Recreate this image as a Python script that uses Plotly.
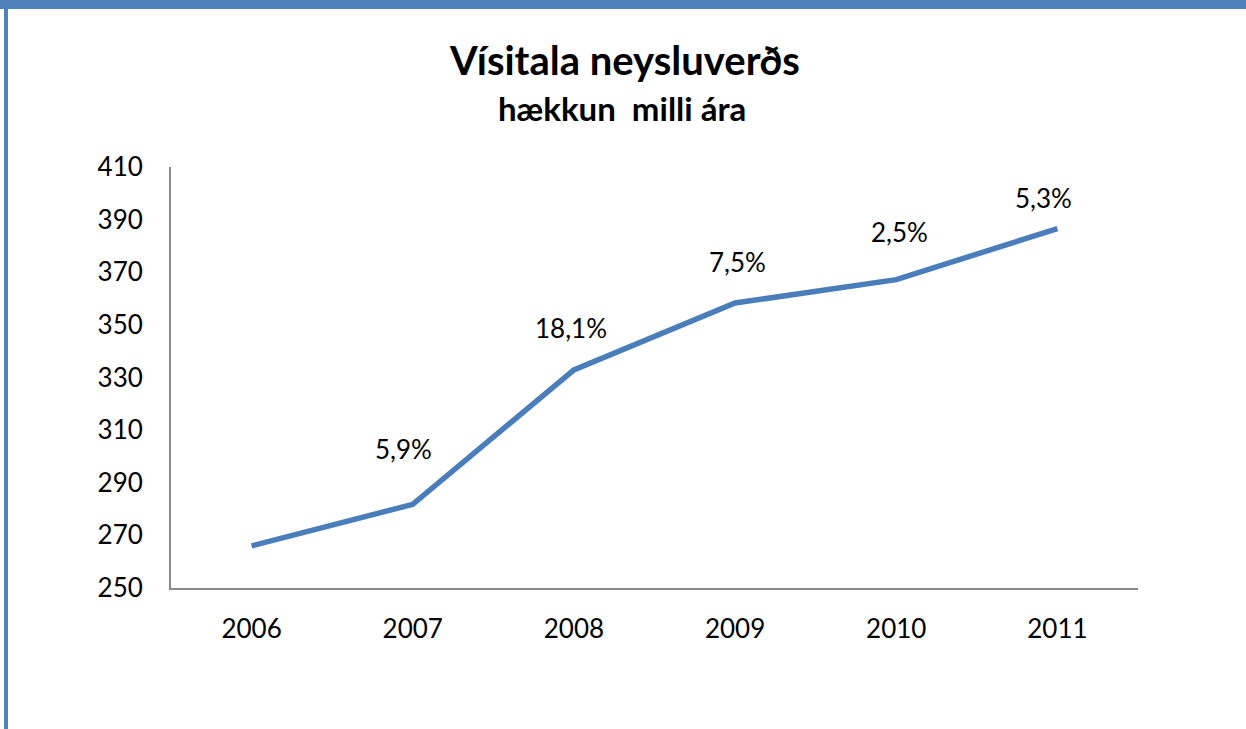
import plotly.graph_objects as go

years = ["2006", "2007", "2008", "2009", "2010", "2011"]
index_values = [266.0, 281.8, 332.9, 358.3, 367.2, 386.6]
change_labels = ["", "5,9%", "18,1%", "7,5%", "2,5%", "5,3%"]
y_ticks = [250, 270, 290, 310, 330, 350, 370, 390, 410]

# label offsets (pixels) relative to each point
label_dx = [0, -9, -3, 2, 3, -14]
label_dy = [0, 55, 42, 41, 48, 31]

FONT = "Lato"
BLUE = "#4F81BD"
LINE = "#4A7EBB"
AXIS = "#898989"

fig = go.Figure()
fig.add_trace(go.Scatter(
    x=years, y=index_values, mode="lines",
    line=dict(color=LINE, width=5.5),
    hoverinfo="x+y", showlegend=False,
))

for i, (yv, lab, dx, dy) in enumerate(zip(index_values, change_labels, label_dx, label_dy)):
    if not lab:
        continue
    fig.add_annotation(x=i, y=yv, xref="x", yref="y", text=lab, showarrow=False,
                       xshift=dx, yshift=dy,
                       font=dict(family=FONT, size=26, color="#000000"))

W, H = 1246, 729
L, R, T, B = 171, 108, 167, 141
pw, ph = W - L - R, H - T - B

def px(x):
    return (x - L) / pw

def py(y):
    return (H - B - y) / ph

# frame: top bar and left border
fig.add_shape(type="rect", xref="paper", yref="paper",
              x0=px(0), x1=px(W), y0=py(9), y1=py(0),
              fillcolor=BLUE, line=dict(width=0), layer="below")
fig.add_shape(type="rect", xref="paper", yref="paper",
              x0=px(4), x1=px(8), y0=py(H), y1=py(0),
              fillcolor=BLUE, line=dict(width=0), layer="below")

fig.add_annotation(xref="paper", yref="paper", x=px(624), y=py(60),
                   text="<b>Vísitala neysluverðs</b>", showarrow=False,
                   xanchor="center", yanchor="middle",
                   font=dict(family=FONT, size=40, color="#000000"))
fig.add_annotation(xref="paper", yref="paper", x=px(622), y=py(108),
                   text="<b>hækkun  milli ára</b>", showarrow=False,
                   xanchor="center", yanchor="middle",
                   font=dict(family=FONT, size=33, color="#000000"))

fig.update_layout(
    width=W, height=H,
    margin=dict(l=L, r=R, t=T, b=B, autoexpand=False),
    paper_bgcolor="white", plot_bgcolor="white",
    font=dict(family=FONT, size=26, color="#000000"),
    xaxis=dict(type="category", range=[-0.5, 5.5], showgrid=False,
               showline=True, linecolor=AXIS, linewidth=2,
               ticks="", ticklabelstandoff=17, zeroline=False,
               tickfont=dict(family=FONT, size=26)),
    yaxis=dict(range=[250, 410], tickvals=y_ticks, showgrid=False,
               showline=True, linecolor=AXIS, linewidth=2,
               ticks="", ticklabelstandoff=21, zeroline=False,
               tickfont=dict(family=FONT, size=26)),
)

fig.write_html("out.html", config={"displayModeBar": False},
               post_script="document.body.style.margin='0';document.body.style.padding='0';")
